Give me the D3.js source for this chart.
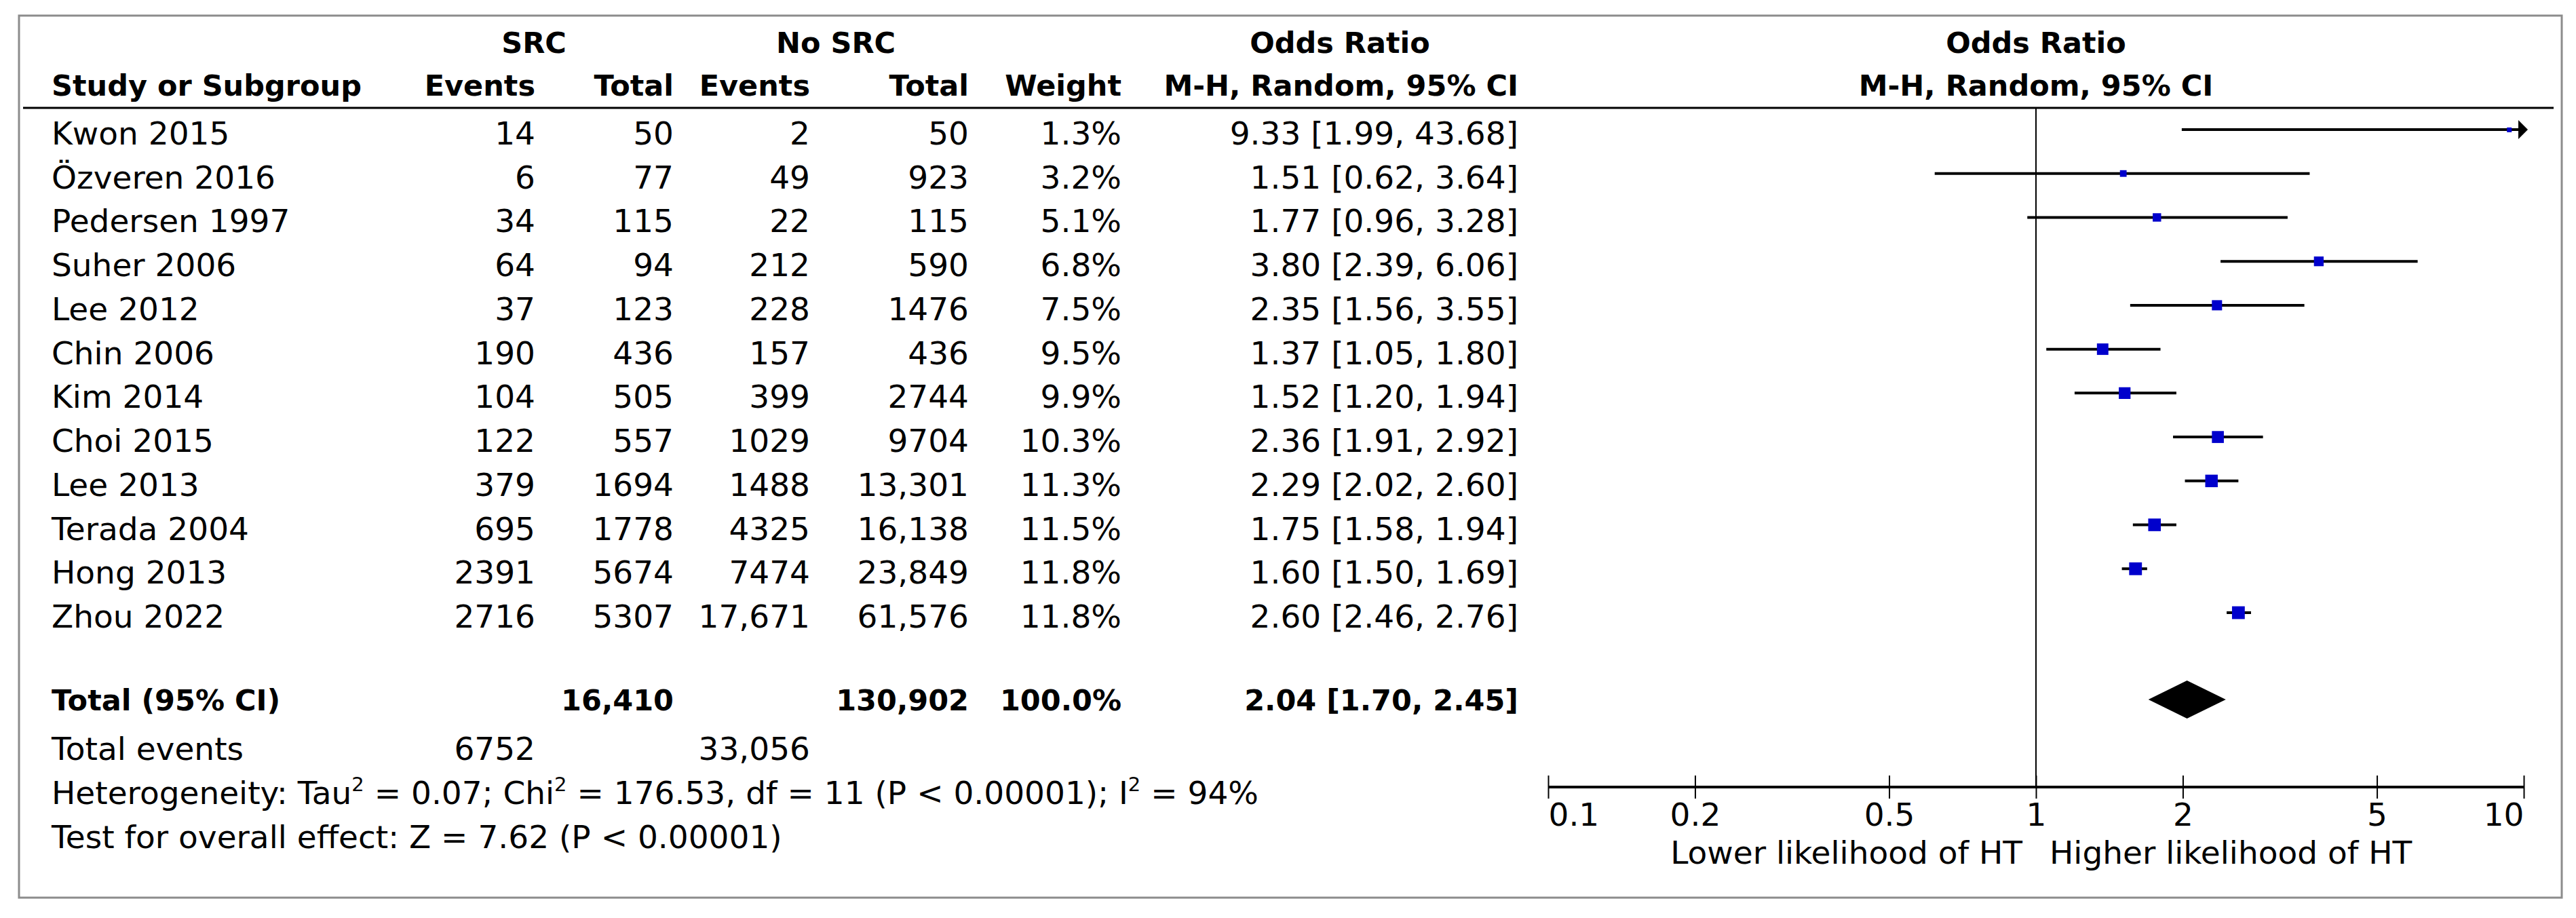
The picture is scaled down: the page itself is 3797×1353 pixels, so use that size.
<!DOCTYPE html>
<html>
<head>
<meta charset="utf-8">
<script src="https://cdn.jsdelivr.net/npm/d3@7"></script>
<style>
    body { margin: 0; background: #fff; }
    svg text { font-family: "DejaVu Sans", Verdana, sans-serif; fill: #000; }
</style>
</head>
<body>
<svg id="chart" width="3797" height="1353"></svg>
<script>

var studies     = ["Kwon 2015", "Özveren 2016", "Pedersen 1997", "Suher 2006", "Lee 2012", "Chin 2006",
                   "Kim 2014", "Choi 2015", "Lee 2013", "Terada 2004", "Hong 2013", "Zhou 2022"];
var srcEvents   = [14, 6, 34, 64, 37, 190, 104, 122, 379, 695, 2391, 2716];
var srcTotal    = [50, 77, 115, 94, 123, 436, 505, 557, 1694, 1778, 5674, 5307];
var noEvents    = [2, 49, 22, 212, 228, 157, 399, 1029, 1488, 4325, 7474, 17671];
var noTotal     = [50, 923, 115, 590, 1476, 436, 2744, 9704, 13301, 16138, 23849, 61576];
var weights     = [1.3, 3.2, 5.1, 6.8, 7.5, 9.5, 9.9, 10.3, 11.3, 11.5, 11.8, 11.8];
var oddsRatio   = [9.33, 1.51, 1.77, 3.80, 2.35, 1.37, 1.52, 2.36, 2.29, 1.75, 1.60, 2.60];
var ciLow       = [1.99, 0.62, 0.96, 2.39, 1.56, 1.05, 1.20, 1.91, 2.02, 1.58, 1.50, 2.46];
var ciHigh      = [43.68, 3.64, 3.28, 6.06, 3.55, 1.80, 1.94, 2.92, 2.60, 1.94, 1.69, 2.76];

var pooled      = { or: 2.04, lo: 1.70, hi: 2.45 };
var totals      = { srcTotal: 16410, noTotal: 130902, weight: 100.0, srcEvents: 6752, noEvents: 33056 };
var axisTicks   = [0.1, 0.2, 0.5, 1, 2, 5, 10];

var svg = d3.select("#chart");
var FS = 47, FSB = 43;

var fmtInt = function (n) { return n >= 10000 ? d3.format(",")(n) : String(n); };
var fmt2   = d3.format(".2f");

// column right edges
var col = { events1: 789, total1: 993, events2: 1194, total2: 1428, weight: 1653, or: 2238 };

var x = d3.scaleLog().domain([0.1, 10]).range([2282, 3720]);
var y = d3.scaleLinear().domain([0, studies.length - 1]).range([213, 925]);
var size = d3.scaleSqrt().domain([0, 12]).range([0, 19]);

// frame
svg.append("rect")
    .attr("x", 28).attr("y", 23).attr("width", 3748).attr("height", 1300)
    .attr("fill", "none").attr("stroke", "#8c8c8c").attr("stroke-width", 3);

function text (tx, ty, str, anchor, bold) {
    return svg.append("text")
        .attr("x", tx).attr("y", ty)
        .attr("text-anchor", anchor || "start")
        .attr("font-size", bold ? FSB : FS)
        .attr("font-weight", bold ? "bold" : "normal")
        .text(str);
}

// header
text(787, 78, "SRC", "middle", true);
text(1232, 78, "No SRC", "middle", true);
text(1975, 78, "Odds Ratio", "middle", true);
text(x(1), 78, "Odds Ratio", "middle", true);

text(76, 141, "Study or Subgroup", "start", true);
text(col.events1, 141, "Events", "end", true);
text(col.total1, 141, "Total", "end", true);
text(col.events2, 141, "Events", "end", true);
text(col.total2, 141, "Total", "end", true);
text(col.weight, 141, "Weight", "end", true);
text(col.or, 141, "M-H, Random, 95% CI", "end", true);
text(x(1), 141, "M-H, Random, 95% CI", "middle", true);

svg.append("line")
    .attr("x1", 34).attr("x2", 3764).attr("y1", 159).attr("y2", 159)
    .attr("stroke", "#000").attr("stroke-width", 3);

// study rows
var rows = svg.append("g").selectAll("g")
    .data(studies.map(function (s, i) { return i; }))
    .enter()
    .append("g")
    .attr("transform", function (i) { return "translate(0," + y(i) + ")"; });

function cell (key, accessor, anchor) {
    rows.append("text")
        .attr("x", key)
        .attr("text-anchor", anchor)
        .attr("font-size", FS)
        .text(accessor);
}

cell(76, function (i) { return studies[i]; }, "start");
cell(col.events1, function (i) { return fmtInt(srcEvents[i]); }, "end");
cell(col.total1, function (i) { return fmtInt(srcTotal[i]); }, "end");
cell(col.events2, function (i) { return fmtInt(noEvents[i]); }, "end");
cell(col.total2, function (i) { return fmtInt(noTotal[i]); }, "end");
cell(col.weight, function (i) { return weights[i].toFixed(1) + "%"; }, "end");
cell(col.or, function (i) { return fmt2(oddsRatio[i]) + " [" + fmt2(ciLow[i]) + ", " + fmt2(ciHigh[i]) + "]"; }, "end");

// null line
svg.append("line")
    .attr("x1", x(1)).attr("x2", x(1)).attr("y1", 159).attr("y2", 1160)
    .attr("stroke", "#000").attr("stroke-width", 2);

// confidence intervals
rows.append("line")
    .attr("x1", function (i) { return x(Math.max(ciLow[i], 0.1)); })
    .attr("x2", function (i) { return x(Math.min(ciHigh[i], 10)); })
    .attr("y1", -22).attr("y2", -22)
    .attr("stroke", "#000").attr("stroke-width", 4);

rows.filter(function (i) { return ciHigh[i] > 10; })
    .append("path")
    .attr("d", function () {
        var tx = x(10) + 6;
        return "M" + tx + ",-22L" + (tx - 14) + ",-36L" + (tx - 14) + ",-8Z";
    })
    .attr("fill", "#000");

rows.append("rect")
    .attr("x", function (i) { return x(oddsRatio[i]) - size(weights[i]) / 2; })
    .attr("y", function (i) { return -22 - size(weights[i]) / 2; })
    .attr("width", function (i) { return Math.max(size(weights[i]), 7); })
    .attr("height", function (i) { return Math.max(size(weights[i]), 7); })
    .attr("fill", "#0000cc");

// totals
var yTot = 1047;
text(76, yTot, "Total (95% CI)", "start", true);
text(col.total1, yTot, d3.format(",")(totals.srcTotal), "end", true);
text(col.total2, yTot, d3.format(",")(totals.noTotal), "end", true);
text(col.weight, yTot, totals.weight.toFixed(1) + "%", "end", true);
text(col.or, yTot, fmt2(pooled.or) + " [" + fmt2(pooled.lo) + ", " + fmt2(pooled.hi) + "]", "end", true);

svg.append("path")
    .attr("d", "M" + x(pooled.lo) + "," + (yTot - 16) +
               "L" + x(pooled.or) + "," + (yTot - 44) +
               "L" + x(pooled.hi) + "," + (yTot - 16) +
               "L" + x(pooled.or) + "," + (yTot + 12) + "Z")
    .attr("fill", "#000");

text(76, 1120, "Total events");
text(col.events1, 1120, String(totals.srcEvents), "end");
text(col.events2, 1120, d3.format(",")(totals.noEvents), "end");

var het = text(76, 1185, "");
het.append("tspan").text("Heterogeneity: Tau");
het.append("tspan").attr("font-size", 29).attr("dy", -19).text("2");
het.append("tspan").attr("dy", 19).text(" = 0.07; Chi");
het.append("tspan").attr("font-size", 29).attr("dy", -19).text("2");
het.append("tspan").attr("dy", 19).text(" = 176.53, df = 11 (P < 0.00001); I");
het.append("tspan").attr("font-size", 29).attr("dy", -19).text("2");
het.append("tspan").attr("dy", 19).text(" = 94%");

text(76, 1250, "Test for overall effect: Z = 7.62 (P < 0.00001)");

// axis
var axis = svg.append("g")
    .attr("transform", "translate(0,1160)")
    .call(d3.axisBottom(x).tickValues(axisTicks).tickSize(17).tickFormat(function (d) { return String(d); }));

axis.select(".domain").attr("stroke-width", 4).attr("d", "M" + x(0.1) + ",0H" + x(10));
axis.selectAll(".tick line").attr("y1", -17).attr("stroke-width", 2);
axis.selectAll(".tick text")
    .attr("font-size", FS)
    .attr("font-family", "DejaVu Sans")
    .attr("y", 57).attr("dy", 0)
    .attr("text-anchor", function (d) { return d === 0.1 ? "start" : d === 10 ? "end" : "middle"; });

text(x(1) - 20, 1273, "Lower likelihood of HT", "end");
text(x(1) + 20, 1273, "Higher likelihood of HT", "start");

</script>
</body>
</html>
